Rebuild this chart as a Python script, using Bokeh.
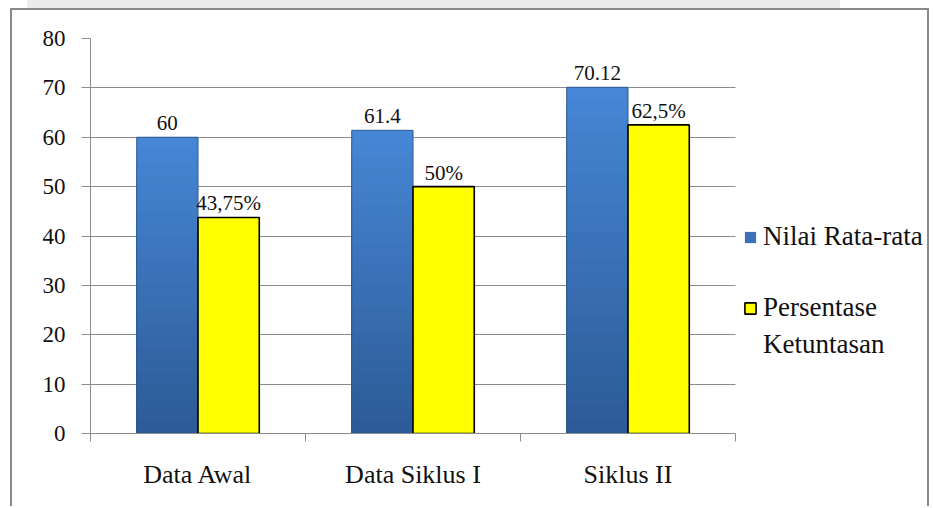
from bokeh.plotting import figure
from bokeh.models import (ColumnDataSource, FixedTicker, Range1d, Legend,
                          LegendItem, BoxAnnotation)
from bokeh.embed import file_html
from bokeh.resources import INLINE
from bokeh.core.properties import value

# --- data -------------------------------------------------------------
categories = ["Data Awal", "Data Siklus I", "Siklus II"]
nilai_rata_rata = [60, 61.4, 70.12]
persentase_ketuntasan = [43.75, 50, 62.5]
nilai_labels = ["60", "61.4", "70.12"]
persentase_labels = ["43,75%", "50%", "62,5%"]
y_ticks = [0, 10, 20, 30, 40, 50, 60, 70, 80]

SERIF = "Liberation Serif"
GRID = "#8c8c8c"
BAR_W = 0.285

W, H = 919, 498
LEFT, TOP, BOTTOM = 78, 28, 75
CAT_PX = 215          # pixel width of one category slot
n_cat = len(categories)

centers = [i + 0.5 for i in range(n_cat)]
x_blue = [c - BAR_W / 2 for c in centers]
x_yellow = [c + BAR_W / 2 for c in centers]

# the frame runs to the right edge so the legend can sit beside the bars
x_end = (W - LEFT) / CAT_PX
p = figure(width=W, height=H, output_backend="svg", toolbar_location=None,
           x_range=Range1d(0, x_end), y_range=Range1d(0, 80),
           min_border_left=LEFT, min_border_right=0,
           min_border_top=TOP, min_border_bottom=BOTTOM)
p.outline_line_color = None
p.background_fill_color = "white"
p.border_fill_color = "white"
p.styles = {"margin-left": "10px", "margin-top": "8px",
            "border-left": "2px solid #8a8a8a", "border-top": "2px solid #8a8a8a",
            "border-right": "2px solid #8a8a8a",
            "box-shadow": "-36px -61px 0 -53px #ececec"}

# axes
p.xgrid.visible = False
p.ygrid.grid_line_color = GRID
p.ygrid.ticker = FixedTicker(ticks=y_ticks)

p.yaxis.ticker = FixedTicker(ticks=y_ticks)
p.yaxis.axis_line_color = GRID
p.yaxis.major_tick_line_color = GRID
p.yaxis.major_tick_out = 9
p.yaxis.major_tick_in = 0
p.yaxis.minor_tick_line_color = None
p.yaxis.major_label_standoff = 16
p.yaxis.major_label_text_font = SERIF
p.yaxis.major_label_text_font_size = "23px"
p.yaxis.major_label_text_color = "#111111"

p.xaxis.bounds = (0, n_cat)
p.xaxis.ticker = FixedTicker(ticks=centers, minor_ticks=list(range(n_cat + 1)))
p.xaxis.major_label_overrides = {c: name for c, name in zip(centers, categories)}
p.xaxis.axis_line_color = GRID
p.xaxis.major_tick_line_color = None
p.xaxis.major_tick_out = 0
p.xaxis.minor_tick_line_color = GRID
p.xaxis.minor_tick_out = 8
p.xaxis.minor_tick_in = 0
p.xaxis.major_label_standoff = 18
p.xaxis.major_label_text_font = SERIF
p.xaxis.major_label_text_font_size = "26px"
p.xaxis.major_label_text_color = "#111111"

# blank out the grid to the right of the last category (legend area)
p.add_layout(BoxAnnotation(left=n_cat, fill_color="white", fill_alpha=1,
                           line_color=None))

# blue bars: overlapping layers, lightest/tallest first, for a vertical shading
dark = (0x2d, 0x5b, 0x96)
light = (0x47, 0x87, 0xd6)
n_layers = 24
blue_renderer = None
for k in reversed(range(n_layers)):
    t = (k + 0.5) / n_layers
    col = tuple(int(dark[j] + (light[j] - dark[j]) * t) for j in range(3))
    src = ColumnDataSource(dict(
        x=x_blue,
        top=[v * (k + 1) / n_layers for v in nilai_rata_rata]))
    r = p.vbar(x="x", top="top", width=BAR_W, source=src,
               fill_color="#%02x%02x%02x" % col, line_color=None)
    if k == n_layers // 2:
        blue_renderer = r
p.vbar(x=x_blue, top=nilai_rata_rata, width=BAR_W, fill_alpha=0,
       line_color="#2d5890", line_width=1)

yellow_renderer = p.vbar(x=x_yellow, top=persentase_ketuntasan, width=BAR_W,
                         fill_color="#ffff00", line_color="#000000", line_width=1.6)
# same bars, invisible: stands behind the legend's second text line
yellow_blank = p.vbar(x=x_yellow, top=persentase_ketuntasan, width=BAR_W,
                      fill_alpha=0, line_alpha=0)

# value labels
label_style = dict(text_font=value(SERIF), text_font_size="21px",
                   text_color="#111111", text_align="center",
                   text_baseline="alphabetic", y_offset=-14)
p.text(x=x_blue, y=nilai_rata_rata, text=nilai_labels, **label_style)
p.text(x=x_yellow, y=persentase_ketuntasan, text=persentase_labels, **label_style)

# legend, one block per series, to the right of the bars
legend_style = dict(margin=0, padding=0, glyph_width=14, glyph_height=14,
                    label_standoff=6, label_height=26, label_text_font=SERIF,
                    label_text_font_size="27px", label_text_color="#111111",
                    label_text_baseline="middle",
                    border_line_color=None, background_fill_alpha=0)
legend_blue = Legend(items=[LegendItem(label="Nilai Rata-rata", renderers=[blue_renderer])],
                     location=(653, 181), **legend_style)
legend_yellow = Legend(items=[LegendItem(label="Persentase", renderers=[yellow_renderer]),
                              LegendItem(label="Ketuntasan", renderers=[yellow_blank])],
                       location=(653, 73), spacing=6, **legend_style)
p.add_layout(legend_blue)
p.add_layout(legend_yellow)

open("out.html", "w").write(file_html(p, INLINE))
